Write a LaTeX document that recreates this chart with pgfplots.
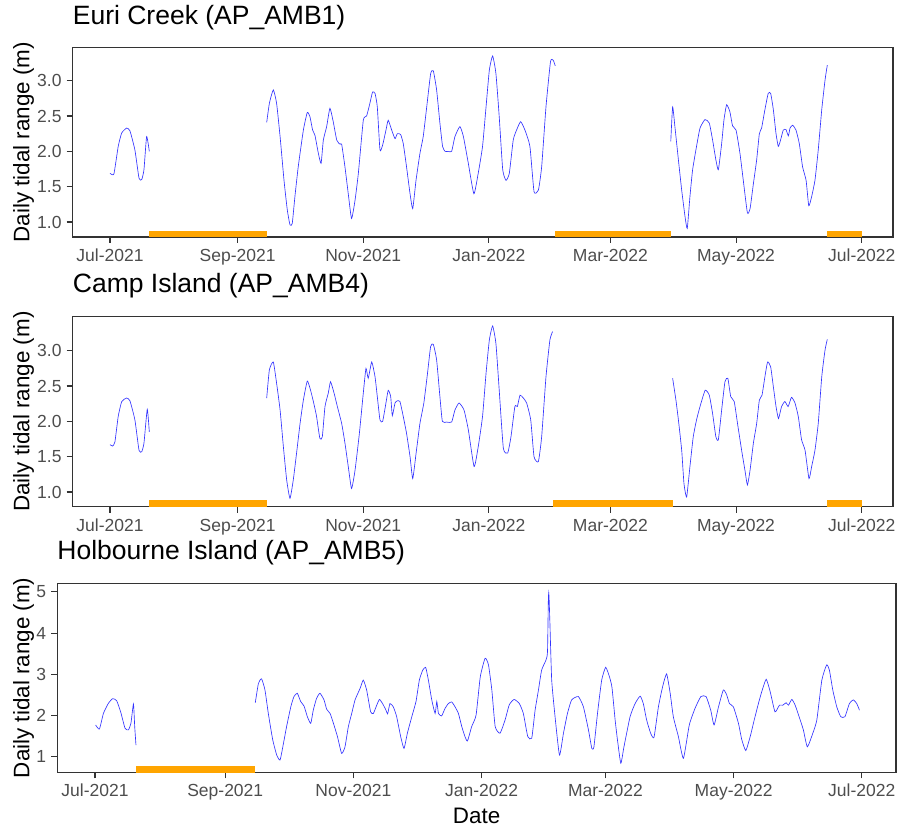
\documentclass[border=0pt]{standalone}
\usepackage{pgfplots}
\pgfplotsset{compat=1.18}
\usepackage{fontspec}
\setmainfont{Liberation Sans}
\definecolor{tickgray}{HTML}{4D4D4D}
\definecolor{framegray}{HTML}{333333}
\definecolor{barorange}{HTML}{FFA500}
\definecolor{lineblue}{HTML}{0000FF}

\pgfplotsset{
  tidal/.style={
    scale only axis,
    axis line style={framegray, line width=1.1pt},
    tick style={framegray, line width=1.1pt},
    tick align=outside,
    major tick length=6pt,
    xtick pos=left,
    ytick pos=left,
    xtick={0,62,123,184,243,304,365},
    xticklabels={Jul-2021,Sep-2021,Nov-2021,Jan-2022,Mar-2022,May-2022,Jul-2022},
    ticklabel style={font=\fontsize{17.5}{20}\selectfont, text=tickgray},
    xticklabel style={anchor=base, inner sep=0pt, yshift=-18.7pt},
    yticklabel style={anchor=east, inner sep=0pt, xshift=-5pt},
    /pgf/number format/assume math mode=true,
    title style={anchor=base west, inner sep=0pt, yshift=0pt, font=\fontsize{26.5}{30}\selectfont},
    ylabel style={anchor=base, inner sep=0pt, font=\fontsize{22.4}{26}\selectfont},
    xlabel style={anchor=base, inner sep=0pt, font=\fontsize{22.4}{26}\selectfont},
    clip=true,
  },
  blueline/.style={color=lineblue, line width=0.65pt, opacity=0.8, smooth, tension=0.3},
  orangebar/.style={draw=none, fill=barorange},
}

\begin{document}
\begin{tikzpicture}[x=1pt,y=1pt]
\useasboundingbox (0,0) rectangle (898,828);

% ---------------- Panel 1: Euri Creek ----------------
\begin{axis}[tidal,
  at={(72.7pt,591pt)}, anchor=south west,
  width=820.3pt, height=189.7pt,
  xmin=-18.1, xmax=380.2,
  ymin=0.788, ymax=3.473,
  ytick={1,1.5,2,2.5,3},
  yticklabels={1.0,1.5,2.0,2.5,3.0},
  title={Euri Creek (AP\_AMB1)},
  title style={at={(axis description cs:0,1.088)}},
  ylabel={Daily tidal range (m)},
  ylabel style={at={(axis description cs:-0.0529,0.5)}},
]
\addplot[orangebar] coordinates {(19.1,0.6) (76.1,0.6) (76.1,0.877) (19.1,0.877)};
\addplot[orangebar] coordinates {(216.3,0.6) (272.3,0.6) (272.3,0.877) (216.3,0.877)};
\addplot[orangebar] coordinates {(348.3,0.6) (365.3,0.6) (365.3,0.877) (348.3,0.877)};
\addplot[blueline] coordinates {(0,1.69)(1.9,1.68)(4,2.07)(5.7,2.26)(8.1,2.33)(9.7,2.29)(12.1,2.02)(14.1,1.62)(15.4,1.60)(16.5,1.74)(17.8,2.21)(19.1,2.0)};
\addplot[blueline] coordinates {(76.1,2.41)(77.4,2.68)(79.3,2.87)(80.9,2.68)(82.6,2.21)(84.5,1.59)(86.1,1.17)(87.4,0.96)(88.5,0.98)(89.8,1.36)(91.4,1.78)(93.9,2.30)(95.8,2.55)(97.1,2.49)(98.4,2.30)(99.5,2.23)(101.2,1.97)(102.5,1.83)(103.6,2.16)(105.2,2.35)(106.8,2.61)(108.4,2.42)(110.1,2.16)(111.7,2.10)(112.5,2.10)(114.1,1.78)(115.7,1.40)(117.3,1.05)(119.0,1.31)(120.6,1.69)(123.0,2.44)(124.6,2.50)(126.2,2.68)(127.5,2.84)(128.7,2.82)(129.8,2.63)(131.1,2.02)(132.4,2.09)(134.0,2.30)(135.1,2.44)(136.8,2.30)(138.4,2.18)(139.5,2.25)(141.1,2.24)(142.4,2.11)(144.0,1.78)(145.7,1.40)(147.0,1.19)(148.6,1.59)(150.5,1.97)(152.1,2.21)(153.8,2.63)(155.7,3.10)(157.0,3.14)(158.6,2.87)(160.2,2.40)(161.5,2.07)(162.7,2.00)(164.3,2.00)(165.9,2.00)(167.5,2.21)(169.9,2.35)(171.6,2.21)(174.0,1.83)(176.7,1.40)(178.8,1.69)(180.9,2.07)(182.6,2.63)(184.2,3.15)(185.8,3.35)(187.4,3.10)(189.0,2.49)(190.7,1.74)(192.3,1.59)(193.9,1.69)(195.8,2.16)(197.4,2.30)(199.4,2.42)(201.5,2.30)(203.9,2.07)(205.9,1.43)(208.0,1.45)(209.6,1.78)(211.7,2.63)(213.9,3.27)(215.2,3.29)(216.2,3.21)};
\addplot[blueline] coordinates {(272.3,2.14)(273.2,2.63)(274.3,2.35)(276.0,1.88)(277.6,1.45)(279.2,1.08)(280.3,0.91)(281.6,1.36)(282.9,1.74)(284.8,2.07)(286.5,2.33)(288.9,2.45)(291.0,2.40)(292.6,2.16)(294.2,1.88)(295.4,1.74)(297.0,2.11)(298.1,2.44)(299.4,2.66)(301.0,2.56)(302.3,2.36)(304.0,2.30)(305.9,1.97)(307.5,1.59)(309.5,1.13)(310.8,1.19)(312.4,1.54)(314.0,1.88)(315.3,2.25)(316.4,2.33)(318.0,2.59)(319.6,2.82)(320.8,2.82)(322.1,2.59)(323.4,2.25)(324.5,2.07)(325.6,2.16)(326.9,2.30)(328.2,2.31)(329.4,2.22)(330.2,2.33)(331.5,2.37)(333.1,2.30)(334.7,2.11)(336.3,1.78)(338.0,1.59)(339.3,1.23)(340.7,1.36)(342.3,1.59)(343.9,2.02)(345.6,2.59)(347.2,3.01)(348.3,3.22)};
\end{axis}

% ---------------- Panel 2: Camp Island ----------------
\begin{axis}[tidal,
  at={(72.7pt,321.3pt)}, anchor=south west,
  width=820.3pt, height=190pt,
  xmin=-18.1, xmax=380.2,
  ymin=0.792, ymax=3.481,
  ytick={1,1.5,2,2.5,3,3.5},
  yticklabels={1.0,1.5,2.0,2.5,3.0,3.5},
  title={Camp Island (AP\_AMB4)},
  title style={at={(axis description cs:0,1.095)}},
  ylabel={Daily tidal range (m)},
  ylabel style={at={(axis description cs:-0.0529,0.5)}},
]
\addplot[orangebar] coordinates {(19.1,0.6) (76.1,0.6) (76.1,0.887) (19.1,0.887)};
\addplot[orangebar] coordinates {(215.2,0.6) (273.2,0.6) (273.2,0.887) (215.2,0.887)};
\addplot[orangebar] coordinates {(348.3,0.6) (365.3,0.6) (365.3,0.887) (348.3,0.887)};
\addplot[blueline] coordinates {(0,1.67)(1.3,1.65)(2.4,1.71)(4.0,2.07)(5.7,2.28)(8.1,2.33)(9.7,2.29)(12.1,2.02)(14.1,1.59)(15.4,1.57)(16.5,1.69)(18.1,2.17)(19.1,1.85)};
\addplot[blueline] coordinates {(76.1,2.33)(77.4,2.73)(79.3,2.84)(80.9,2.54)(82.6,2.16)(84.2,1.64)(85.8,1.17)(87.4,0.91)(89.0,1.17)(90.6,1.55)(92.3,1.97)(93.9,2.30)(95.8,2.57)(97.4,2.44)(99.0,2.25)(100.3,2.07)(101.9,1.76)(103.1,1.78)(104.4,2.21)(106.0,2.40)(107.1,2.56)(108.8,2.40)(110.4,2.21)(112.5,1.97)(114.1,1.69)(115.7,1.36)(117.3,1.05)(119.0,1.31)(121.1,1.83)(123.0,2.40)(124.3,2.75)(125.4,2.61)(127.1,2.84)(128.7,2.63)(129.8,2.35)(131.1,2.02)(132.4,2.00)(134.0,2.26)(135.1,2.44)(136.3,2.35)(137.1,2.08)(138.4,2.26)(139.5,2.29)(140.8,2.28)(142.4,2.07)(144.0,1.83)(145.7,1.50)(147.0,1.19)(148.6,1.54)(150.5,1.97)(152.4,2.26)(154.1,2.66)(155.7,3.06)(157.0,3.09)(158.6,2.87)(160.2,2.35)(161.4,2.00)(163.5,1.99)(165.9,1.99)(167.5,2.16)(169.5,2.26)(171.9,2.16)(174.0,1.88)(176.8,1.36)(178.8,1.64)(180.9,2.07)(182.6,2.68)(184.2,3.15)(185.8,3.35)(187.4,3.10)(189.0,2.44)(191.0,1.62)(193.1,1.55)(194.7,1.78)(196.6,2.21)(197.8,2.21)(199.1,2.37)(200.7,2.33)(202.3,2.26)(204.3,2.02)(205.9,1.50)(208.0,1.43)(209.6,1.78)(211.7,2.63)(213.6,3.15)(214.9,3.27)};
\addplot[blueline] coordinates {(273.2,2.61)(274.8,2.30)(276.0,2.02)(277.6,1.59)(278.7,1.12)(280.0,0.93)(281.6,1.36)(283.2,1.78)(284.8,2.02)(286.5,2.21)(289.0,2.44)(291.0,2.37)(292.6,2.11)(294.2,1.78)(295.4,1.74)(297.0,2.16)(298.6,2.56)(300.0,2.61)(301.4,2.35)(303.1,2.28)(304.7,1.97)(306.7,1.59)(308.3,1.31)(309.5,1.10)(310.8,1.31)(312.4,1.69)(314.0,1.97)(315.3,2.30)(316.6,2.37)(318.0,2.63)(319.3,2.84)(320.8,2.77)(322.1,2.49)(323.4,2.21)(324.6,2.04)(326.1,2.21)(327.7,2.28)(329.3,2.21)(330.9,2.34)(332.6,2.26)(334.2,2.07)(335.8,1.74)(337.5,1.59)(339.4,1.19)(340.7,1.36)(342.3,1.59)(343.9,1.97)(345.6,2.63)(347.2,3.01)(348.3,3.16)};
\end{axis}

% ---------------- Panel 3: Holbourne Island ----------------
\begin{axis}[tidal,
  at={(57.3pt,55.7pt)}, anchor=south west,
  width=838.7pt, height=189pt,
  xmin=-17.95, xmax=381.3,
  ymin=0.621, ymax=5.21,
  ytick={1,2,3,4,5},
  yticklabels={1,2,3,4,5},
  title={Holbourne Island (AP\_AMB5)},
  title style={at={(axis description cs:0,1.095)}},
  ylabel={Daily tidal range (m)},
  ylabel style={at={(axis description cs:-0.0334,0.5)}},
  xlabel={Date},
  xlabel style={at={(axis description cs:0.5,-0.2698)}},
]
\addplot[orangebar] coordinates {(19.5,0.4) (76.2,0.4) (76.2,0.774) (19.5,0.774)};
\addplot[blueline] coordinates {(0.3,1.77)(2.1,1.67)(4.0,2.05)(6.3,2.29)(8.4,2.41)(10.3,2.36)(12.2,2.09)(14.3,1.69)(15.9,1.65)(17.1,1.81)(18.3,2.28)(18.9,1.73)(19.5,1.28)};
\addplot[blueline] coordinates {(76.3,2.31)(77.8,2.78)(79.3,2.89)(80.9,2.62)(82.5,2.05)(84.6,1.41)(86.5,1.04)(88.1,0.92)(89.7,1.32)(91.2,1.73)(93.2,2.21)(94.7,2.46)(96.3,2.54)(97.9,2.34)(99.5,2.23)(101.1,1.97)(102.7,1.81)(103.9,2.13)(105.5,2.42)(107.1,2.54)(109.0,2.38)(110.3,2.15)(111.9,2.05)(113.5,1.81)(115.4,1.49)(117.4,1.08)(119.0,1.24)(120.6,1.73)(122.2,2.05)(123.8,2.38)(126.2,2.66)(127.7,2.86)(129.3,2.62)(131.2,2.09)(132.5,2.05)(134.1,2.25)(135.4,2.39)(137.0,2.28)(138.5,2.13)(139.3,2.04)(140.4,2.29)(142.0,2.21)(143.6,1.97)(145.5,1.49)(147.1,1.20)(148.7,1.57)(150.8,1.97)(152.8,2.34)(154.4,2.86)(156.0,3.10)(157.4,3.17)(158.7,2.86)(160.3,2.38)(161.9,2.05)(162.7,2.34)(163.5,2.05)(165.0,1.99)(166.6,2.17)(168.2,2.29)(169.8,2.33)(171.4,2.21)(173.0,2.05)(174.6,1.73)(176.1,1.49)(177.3,1.38)(179.3,1.73)(181.4,2.01)(183.4,2.94)(185.7,3.39)(187.3,3.23)(188.9,2.62)(190.5,1.73)(192.8,1.57)(195.2,1.89)(197.2,2.26)(199.5,2.39)(202.0,2.29)(203.9,2.05)(206.0,1.49)(207.9,1.45)(209.5,2.13)(211.1,2.62)(212.6,3.10)(214.7,3.35)(215.4,3.55)(215.8,4.8)(216.0,4.98)(216.2,4.8)(216.6,4.16)(217.4,2.86)(219.0,1.97)(221.1,1.04)(223.0,1.57)(224.9,2.05)(226.9,2.38)(230.1,2.46)(232.5,2.21)(234.9,1.65)(236.5,1.20)(237.5,1.24)(239.2,2.05)(241.2,2.86)(243.1,3.17)(244.9,2.94)(246.1,2.68)(247.6,1.89)(248.7,1.41)(250.3,0.84)(251.8,1.24)(254.7,1.97)(257.1,2.29)(259.5,2.47)(261.0,2.29)(262.6,1.89)(264.5,1.57)(266.1,1.47)(268.2,2.21)(270.2,2.70)(272.1,3.01)(273.8,2.54)(275.3,1.97)(277.7,1.49)(280.1,0.96)(282.9,1.77)(285.6,2.17)(288.4,2.46)(290.9,2.46)(293.1,2.13)(294.7,1.77)(296.8,2.21)(299.1,2.62)(300.7,2.50)(302.0,2.29)(303.9,2.21)(306.3,1.81)(307.9,1.41)(309.8,1.15)(311.9,1.49)(313.8,1.89)(315.8,2.29)(317.4,2.58)(319.5,2.88)(321.4,2.58)(323.7,2.09)(325.8,2.25)(327.4,2.25)(329.0,2.31)(330.1,2.25)(331.7,2.39)(333.3,2.25)(335.7,1.89)(337.2,1.65)(339.1,1.24)(341.7,1.57)(343.6,1.89)(346.0,2.86)(348.3,3.23)(349.6,3.10)(351.2,2.62)(353.1,2.21)(355.0,1.97)(357.0,1.97)(359.1,2.29)(361.0,2.38)(362.6,2.29)(363.9,2.13)};
\end{axis}
\end{tikzpicture}
\end{document}
